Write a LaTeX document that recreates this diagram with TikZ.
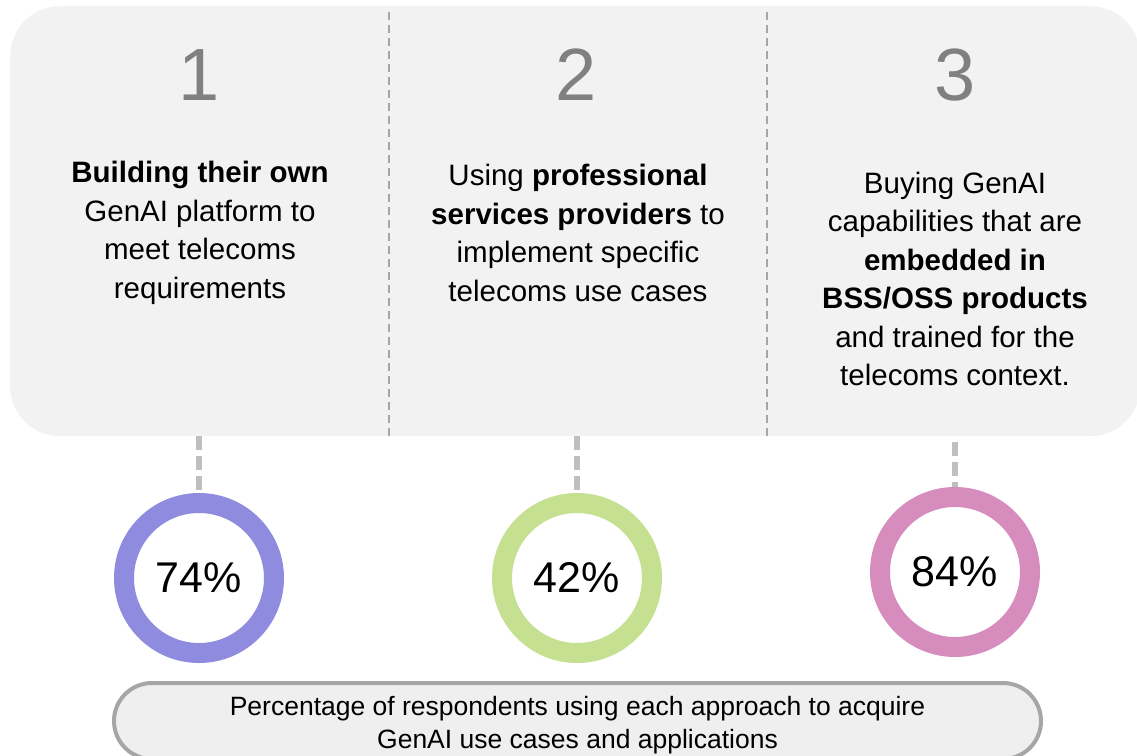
\documentclass[tikz,border=0pt]{standalone}
\usepackage{fontspec}
\setmainfont{Liberation Sans}
\definecolor{panelfill}{HTML}{F2F2F2}
\definecolor{divgray}{HTML}{A6A6A6}
\definecolor{conngray}{HTML}{BFBFBF}
\definecolor{numgray}{HTML}{808080}
\definecolor{ringpurple}{HTML}{8F8BDE}
\definecolor{ringgreen}{HTML}{C5E090}
\definecolor{ringpink}{HTML}{D68DBE}
\definecolor{notefill}{HTML}{EFEFEF}
\definecolor{noteline}{HTML}{A6A6A6}
\begin{document}
\begin{tikzpicture}[x=1pt,y=-1pt,
  bignum/.style={text=numgray, font=\fontsize{74}{74}\selectfont, inner sep=0pt},
  body/.style={align=center, inner sep=0pt, font=\fontsize{29.5}{38.5}\selectfont},
  ring/.style={circle, line width=20pt, minimum size=150pt, inner sep=0pt,
    font=\fontsize{43}{43}\selectfont},
  divider/.style={draw=divgray, line width=1.8pt, dash pattern=on 8pt off 5pt},
  conn/.style={draw=conngray, line width=6pt, dash pattern=on 14pt off 6pt}]
\useasboundingbox (0,0) rectangle (1137,755);
% main panel
\node[fill=panelfill, rounded corners=50pt, minimum width=1130pt, minimum height=430pt,
  inner sep=0pt, anchor=north west] (panel) at (10,6) {};
% dividers
\coordinate (d1t) at (389,12);
\coordinate (d2t) at (767,12);
\draw[divider] (d1t) -- (d1t |- panel.south);
\draw[divider] (d2t) -- (d2t |- panel.south);
% numbers
\node[bignum] (n1) at (199,75) {1};
\node[bignum] (n2) at (576,75) {2};
\node[bignum] (n3) at (955,75) {3};
% texts
\node[body] (t1) at (200,233) {\textbf{Building their own}\\GenAI platform to\\meet telecoms\\requirements};
\node[body] (t2) at (578,233) {Using \textbf{professional}\\\textbf{services providers} to\\implement specific\\telecoms use cases};
\node[body] (t3) at (955,279) {Buying GenAI\\capabilities that are\\\textbf{embedded in}\\\textbf{BSS/OSS products}\\and trained for the\\telecoms context.};
% rings
\node[ring, draw=ringpurple] (c1) at (199,578) {74\%};
\node[ring, draw=ringgreen] (c2) at (577,578) {42\%};
\node[ring, draw=ringpink] (c3) at (955,572) {84\%};
% connectors
\draw[conn] (c1.north |- panel.south) -- (c1.north);
\draw[conn] (c2.north |- panel.south) -- (c2.north);
\draw[conn, shorten <=6pt] (c3.north |- panel.south) -- (c3.north);
% note
\node[draw=noteline, line width=4pt, fill=notefill, rounded corners=38pt,
  minimum width=927pt, minimum height=76pt, inner sep=0pt] (note) at (577.5,721) {};
\node[align=center, inner sep=0pt, font=\fontsize{26.5}{33}\selectfont]
  (notetext) at ([yshift=-4pt]note.center)
  {Percentage of respondents using each approach to acquire\\GenAI use cases and applications};
\end{tikzpicture}
\end{document}
